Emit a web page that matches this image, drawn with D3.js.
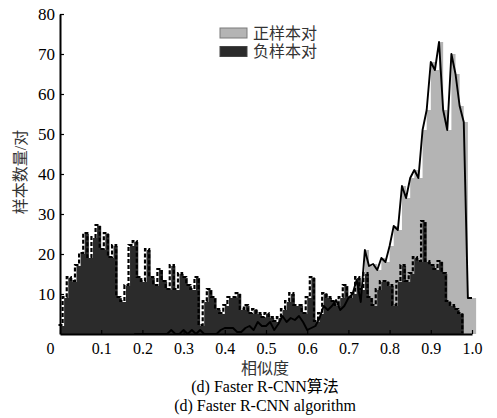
<!DOCTYPE html>
<html>
<head>
<meta charset="utf-8">
<script src="https://cdn.jsdelivr.net/npm/d3@7"></script>
<style>
  body { margin: 0; background: #fff; }
  text { font-family: "Liberation Serif", "Noto Sans CJK SC", serif; }
</style>
</head>
<body>
<div id="chart"></div>
<script>
// histogram bins, width 0.01
const binWidth = 0.01;
// 负样本对, bins starting at 0.00
const negStart = 0.00;
const negCounts = [2, 9, 14, 13, 17, 20, 25, 19, 24, 27,
  21, 25, 19, 22, 9, 8, 12, 22, 23, 14,
  13, 21, 14, 12, 16, 13, 11, 17, 11, 15,
  14, 12, 11, 14, 2, 8, 11, 9, 6, 5,
  7, 9, 9, 10, 6, 7, 5, 6, 5, 4,
  5, 4, 3, 4, 6, 8, 10, 7, 7, 5,
  9, 14, 3, 5, 10, 9, 8, 7, 9, 12,
  9, 10, 14, 11, 15, 9, 7, 11, 13, 13,
  12, 7, 13, 17, 13, 15, 19, 18, 28, 18,
  17, 16, 18, 15, 8, 7, 6, 5];
// 正样本对, bins starting at 0.18
const posStart = 0.18;
const posCounts = [0, 0, 0, 0, 0, 0, 0, 0, 0, 1,
  0, 0, 1, 0, 1, 0, 1, 0, 0, 0,
  0, 1, 1.5, 1.5, 1.5, 0.5, 0.5, 1.5, 2, 1,
  3, 2, 2, 3, 1, 2.5, 4.5, 3, 4, 3.5,
  4.5, 3, 1, 1.5, 2, 4, 7, 6, 7, 8.5,
  6, 7, 9, 10, 13.5, 8, 21, 17, 17.5, 16,
  19, 18, 22, 27, 26, 37, 34, 39, 41, 39,
  51, 56, 68, 66, 73, 56, 51, 70, 65, 57,
  53, 9, 9];
const xTicks = [0, 0.1, 0.2, 0.3, 0.4, 0.5, 0.6, 0.7, 0.8, 0.9, 1.0];
const yTicks = [10, 20, 30, 40, 50, 60, 70, 80];
const legendLabels = ["正样本对", "负样本对"];

const W = 497, H = 418;
const margin = {top: 14, right: 25, bottom: 84, left: 60};

const svg = d3.select("#chart").append("svg")
  .attr("width", W).attr("height", H);

const x = d3.scaleLinear().domain([0, 1]).range([margin.left, 472]);
const y = d3.scaleLinear().domain([0, 80]).range([H - margin.bottom, margin.top]);

const toPts = (start, counts) => counts.map((c, i) => ({v: start + i * binWidth, c: c}));
const negPts = toPts(negStart, negCounts);
const posPts = toPts(posStart, posCounts);
// closing point for step areas
const closed = pts => pts.concat([{v: pts[pts.length - 1].v + binWidth, c: pts[pts.length - 1].c}]);

const area = d3.area().curve(d3.curveStepAfter)
  .x(d => x(d.v)).y0(y(0)).y1(d => y(d.c));

// gray fill (positive)
svg.append("path").datum(closed(posPts))
  .attr("d", area).attr("fill", "#b4b4b4");

// dark fill (negative)
svg.append("path").datum(closed(negPts))
  .attr("d", area).attr("fill", "#2b2b2b");

// dashed outline of negative
const stepLine = d3.line().curve(d3.curveStepAfter)
  .x(d => x(d.v)).y(d => y(d.c));
svg.append("path").datum(closed(negPts).concat([{v: negStart + negCounts.length * binWidth, c: 0}]))
  .attr("d", stepLine)
  .attr("transform", "translate(-1.5,-1)")
  .attr("fill", "none").attr("stroke", "#000")
  .attr("stroke-width", 2.2).attr("stroke-dasharray", "4,2");

// solid outline of positive
const line = d3.line().x(d => x(d.v)).y(d => y(d.c));
svg.append("path").datum(posPts)
  .attr("d", line)
  .attr("fill", "none").attr("stroke", "#000")
  .attr("stroke-width", 1.9).attr("stroke-linejoin", "round");

// axes
const fmt = d => d === 0 ? "0" : d3.format(".1f")(d);
const gx = svg.append("g")
  .attr("transform", `translate(0,${y(0)})`)
  .call(d3.axisBottom(x).tickValues(xTicks).tickFormat(fmt)
    .tickSizeInner(-4).tickSizeOuter(0).tickPadding(9));
gx.select(".domain").attr("stroke-width", 2);
gx.selectAll(".tick line").attr("stroke-width", 1.2);
gx.selectAll(".tick text").attr("font-size", 16).attr("fill", "#000")
  .attr("font-family", "Liberation Serif")
  .attr("dx", d => d === 0 ? -10 : 0);

const gy = svg.append("g")
  .attr("transform", `translate(${x(0)},0)`)
  .call(d3.axisLeft(y).tickValues(yTicks)
    .tickSizeInner(-4).tickSizeOuter(0).tickPadding(5));
gy.select(".domain").attr("stroke-width", 2);
gy.selectAll(".tick line").attr("stroke-width", 1.2);
gy.selectAll(".tick text").attr("font-size", 17).attr("fill", "#000")
  .attr("font-family", "Liberation Serif");

// axis titles
svg.append("text")
  .attr("transform", "translate(26,172) rotate(-90)")
  .attr("text-anchor", "middle").attr("font-size", 16)
  .attr("fill", "#333")
  .text("样本数量/对");

svg.append("text")
  .attr("x", 265).attr("y", 374)
  .attr("text-anchor", "middle").attr("font-size", 16)
  .attr("fill", "#333")
  .text("相似度");

svg.append("text")
  .attr("x", 265).attr("y", 392)
  .attr("text-anchor", "middle").attr("font-size", 16)
  .attr("fill", "#000")
  .text("(d) Faster R-CNN算法");

svg.append("text")
  .attr("x", 265).attr("y", 411)
  .attr("text-anchor", "middle").attr("font-size", 16)
  .attr("fill", "#000")
  .text("(d) Faster R-CNN algorithm");

// legend
const legendFill = ["#b4b4b4", "#2b2b2b"];
const lg = svg.append("g").attr("transform", "translate(220,28)");
legendLabels.forEach((t, i) => {
  lg.append("rect")
    .attr("x", 0).attr("y", i * 18.5)
    .attr("width", 27).attr("height", 10)
    .attr("fill", legendFill[i])
    .attr("stroke", i === 0 ? "#7a7a7a" : "#444").attr("stroke-width", 1);
  lg.append("text")
    .attr("x", 33).attr("y", i * 18.5 + 5)
    .attr("dy", "0.35em")
    .attr("font-size", 16).attr("fill", "#333")
    .text(t);
});
</script>
</body>
</html>
